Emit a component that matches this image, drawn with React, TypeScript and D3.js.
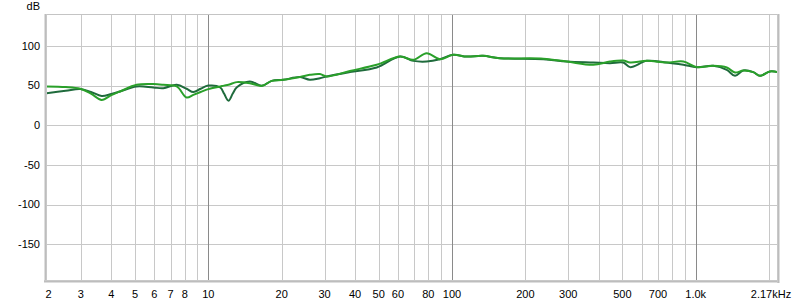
import React from "react";
import * as d3 from "d3";

const freqs = [2.17, 2.6, 2.98, 3.3, 3.65, 4.0, 4.34, 5.08, 5.95, 6.54, 7.42, 8.15, 8.68, 9.3, 10, 11.2, 11.6, 12.1, 12.6, 13.1, 14.8, 16.6, 18.2, 20.3, 23.8, 26.1, 28.7, 30.6, 38.1, 49.1, 61.2, 69.4, 78.7, 89.2, 101, 115, 134, 157, 237, 296, 380, 445, 504, 538, 630, 760, 890, 1010, 1180, 1341, 1450, 1567, 1723, 1835, 2016, 2170];
const darkDb = [40.5, 43.4, 45.6, 42, 37, 39.5, 42.6, 48.9, 47.6, 46.8, 51, 46, 41.8, 46, 50, 47.6, 40, 31, 40, 48, 55.2, 49.7, 56, 57.3, 60.7, 57.3, 59.4, 61.5, 67, 72.8, 86.7, 81.2, 80.4, 83.3, 88.8, 86.6, 87.5, 84.6, 83.3, 80.4, 79.1, 78.3, 79.1, 73.3, 81.2, 79.1, 76.2, 73.3, 74.9, 69.9, 62.3, 69, 67, 62.3, 67.8, 67];
const brightDb = [48.9, 48.1, 46, 40, 32, 38, 42.6, 51, 51.9, 51, 48.9, 35, 38.4, 42, 45.6, 48.9, 50, 51, 53, 54.4, 53, 49.7, 56, 57.3, 61, 63.6, 64.5, 61.5, 68.5, 76.2, 86.7, 82.5, 90.9, 83.3, 88.8, 86.6, 87.5, 84.6, 84, 80.4, 76.2, 80.4, 81.6, 79.1, 81.2, 79.1, 80.4, 73.3, 74.9, 72.8, 66.5, 69, 67, 62.3, 67.8, 67];

const yTicks = [100, 50, 0, -50, -100, -150];
const minorFreqs = [3, 4, 5, 6, 7, 8, 9, 20, 30, 40, 50, 60, 70, 80, 90, 200, 300, 400, 500, 600, 700, 800, 900, 2000];
const decadeFreqs = [10, 100, 1000];
const xTickVals = [3, 4, 5, 6, 7, 8, 10, 20, 30, 40, 50, 60, 80, 100, 200, 300, 500, 700, 1000];
const xTickLabels = ["3", "4", "5", "6", "7", "8", "10", "20", "30", "40", "50", "60", "80", "100", "200", "300", "500", "700", "1.0k"];

export default function App() {
  const W = 800, H = 302;
  const left = 46.6, right = 777.7, top = 15, bottom = 280;
  const x = d3.scaleLog().domain([2.17, 2170]).range([left, right]);
  const y = d3.scaleLinear().domain([-195, 139]).range([bottom, top]);
  const line = d3
    .line<number>()
    .x((_, i) => x(freqs[i]))
    .y((d) => y(d))
    .curve(d3.curveCatmullRom.alpha(0.5));
  const font = "'Liberation Sans', Arial, sans-serif";
  return (
    <svg width={W} height={H} style={{ position: "absolute", left: 0, top: 0, background: "#fff" }}>
      <rect x={left} y={top} width={right - left} height={bottom - top} fill="#fff" />
      {yTicks.map((t) => (
        <line key={"h" + t} x1={left} x2={right} y1={Math.round(y(t)) + 0.5} y2={Math.round(y(t)) + 0.5} stroke="#c8c8c8" strokeWidth={1} />
      ))}
      {minorFreqs.map((f) => (
        <line key={"v" + f} x1={Math.round(x(f)) + 0.5} x2={Math.round(x(f)) + 0.5} y1={top} y2={bottom} stroke="#c8c8c8" strokeWidth={1} />
      ))}
      {decadeFreqs.map((f) => (
        <line key={"d" + f} x1={Math.round(x(f)) + 0.5} x2={Math.round(x(f)) + 0.5} y1={top} y2={bottom} stroke="#8a8a8a" strokeWidth={1} />
      ))}
      <defs>
        <clipPath id="plotclip">
          <rect x={left} y={top} width={right - left} height={bottom - top} />
        </clipPath>
      </defs>
      <g clipPath="url(#plotclip)">
        <path d={line(darkDb) || ""} fill="none" stroke="#1f6b3c" strokeWidth={2} strokeLinejoin="round" />
        <path d={line(brightDb) || ""} fill="none" stroke="#2aa02a" strokeWidth={2} strokeLinejoin="round" />
      </g>
      {/* frame */}
      <line x1={44} x2={780} y1={14.5} y2={14.5} stroke="#c4c4c4" />
      <line x1={44.5} x2={44.5} y1={14} y2={283} stroke="#dedede" />
      <line x1={45.5} x2={45.5} y1={14} y2={283} stroke="#bdbdbd" />
      <line x1={46.5} x2={46.5} y1={14} y2={281} stroke="#c8c8c8" />
      <line x1={44} x2={780} y1={280.5} y2={280.5} stroke="#c8c8c8" />
      <line x1={44} x2={780} y1={281.5} y2={281.5} stroke="#bdbdbd" />
      <line x1={44} x2={780} y1={282.5} y2={282.5} stroke="#dedede" />
      <line x1={777.5} x2={777.5} y1={14} y2={283} stroke="#c8c8c8" />
      <line x1={778.5} x2={778.5} y1={14} y2={283} stroke="#bdbdbd" />
      <line x1={779.5} x2={779.5} y1={14} y2={283} stroke="#dedede" />
      {/* y labels */}
      <text x={40} y={10} textAnchor="end" fontFamily={font} fontSize={11} fill="#000">dB</text>
      {yTicks.map((t) => (
        <text key={"yl" + t} x={40} y={y(t)} dy="0.35em" textAnchor="end" fontFamily={font} fontSize={11} fill="#000">
          {t}
        </text>
      ))}
      {/* x labels */}
      <text x={48.5} y={298} textAnchor="middle" fontFamily={font} fontSize={11} fill="#000">2</text>
      {xTickVals.map((f, i) => (
        <text key={"xl" + f} x={x(f)} y={298} textAnchor="middle" fontFamily={font} fontSize={11} fill="#000">
          {xTickLabels[i]}
        </text>
      ))}
      <text x={771} y={298} textAnchor="middle" fontFamily={font} fontSize={11} fill="#000">2.17kHz</text>
    </svg>
  );
}
